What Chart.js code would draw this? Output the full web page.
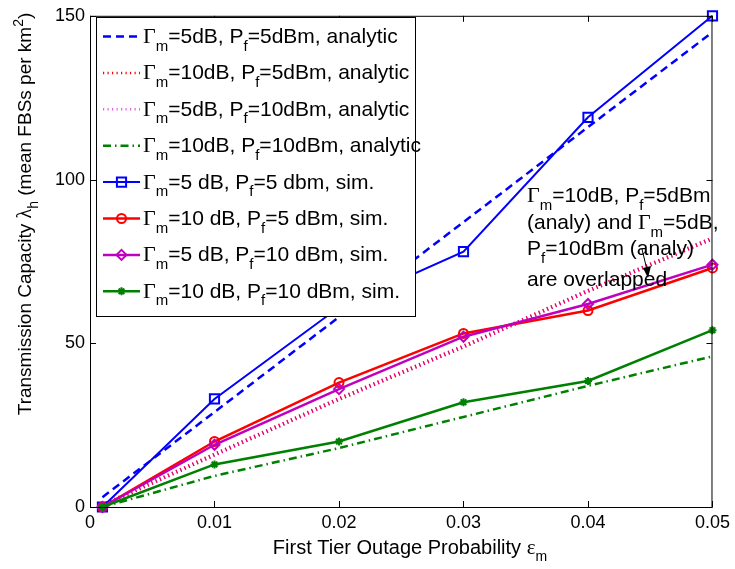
<!DOCTYPE html>
<html>
<head>
<meta charset="utf-8">
<script src="https://cdn.jsdelivr.net/npm/chart.js@4.4.1/dist/chart.umd.min.js"></script>
<style>
  html, body { margin: 0; padding: 0; background: #fff; }
</style>
</head>
<body>
<canvas id="tcChart" width="735" height="569"></canvas>
<script>
// outage probability values where the curves were evaluated
const epsValues = [0.001, 0.01, 0.02, 0.03, 0.04, 0.05];

// analytic curves
const ana5dB5dBm = [3, 29, 58, 87, 116, 145];
const ana10dB5dBm = [0.5, 16, 33, 49, 66, 82];
const ana5dB10dBm = [0.5, 16, 33, 49, 66, 82];
const ana10dB10dBm = [0, 9.5, 18, 27.5, 37, 46];

// simulation curves
const sim5dB5dBm = [0, 33, 61, 78, 119, 150];
const sim10dB5dBm = [0, 20, 38, 53, 60, 73];
const sim5dB10dBm = [0, 19, 36, 52, 62, 74];
const sim10dB10dBm = [0, 13, 20, 32, 38.5, 54];

const xTicks = [0, 0.01, 0.02, 0.03, 0.04, 0.05];
const yTicks = [0, 50, 100, 150];

// "_x" = subscript, "^x" = superscript
const seriesLabels = [
  'Γ_m=5dB, P_f=5dBm, analytic',
  'Γ_m=10dB, P_f=5dBm, analytic',
  'Γ_m=5dB, P_f=10dBm, analytic',
  'Γ_m=10dB, P_f=10dBm, analytic',
  'Γ_m=5 dB, P_f=5 dbm, sim.',
  'Γ_m=10 dB, P_f=5 dBm, sim.',
  'Γ_m=5 dB, P_f=10 dBm, sim.',
  'Γ_m=10 dB, P_f=10 dBm, sim.'
];
const noteLines = ['Γ_m=10dB, P_f=5dBm', '(analy) and Γ_m=5dB,', 'P_f=10dBm (analy)', 'are overlapped'];
const xTitle = 'First Tier Outage Probability ε_m';
const yTitle = 'Transmission Capacity λ_h (mean FBSs per km^2)';

const SANS = '"Liberation Sans", Arial, sans-serif';
const SERIF = '"Liberation Serif", "Times New Roman", serif';
const GREEK = /[\u0370-\u03ff]/;

function toPoints(xs, ys) {
  return xs.map((x, i) => ({ x: x, y: ys[i] }));
}

function parseRich(str) {
  const parts = [];
  let i = 0;
  while (i < str.length) {
    const c = str[i];
    if (c === '_' || c === '^') {
      parts.push({ text: str[i + 1], kind: c === '_' ? 'sub' : 'sup' });
      i += 2;
      continue;
    }
    const greek = GREEK.test(c);
    const last = parts[parts.length - 1];
    if (last && last.kind === 'normal' && last.greek === greek) last.text += c;
    else parts.push({ text: c, kind: 'normal', greek: greek });
    i++;
  }
  return parts;
}

function partFont(p, size) {
  if (p.kind !== 'normal') return Math.round(size * 0.72) + 'px ' + SANS;
  return p.greek ? (size + 1) + 'px ' + SERIF : size + 'px ' + SANS;
}

function drawRich(ctx, str, x, y, size, align) {
  const parts = parseRich(str);
  let w = 0;
  parts.forEach(p => {
    ctx.font = partFont(p, size);
    p.w = ctx.measureText(p.text).width;
    w += p.w;
  });
  let cx = align === 'center' ? x - w / 2 : x;
  ctx.textAlign = 'left';
  ctx.textBaseline = 'alphabetic';
  parts.forEach(p => {
    ctx.font = partFont(p, size);
    let dy = 0;
    if (p.kind === 'sub') dy = size * 0.36;
    if (p.kind === 'sup') dy = -size * 0.42;
    ctx.fillText(p.text, cx, y + dy);
    cx += p.w;
  });
}

const clear = 'rgba(0,0,0,0)';

const datasets = [
  { data: toPoints(epsValues, ana5dB5dBm), borderColor: '#0000ff', borderWidth: 2.5, borderDash: [8, 5], pointRadius: 0, order: 8 },
  { data: toPoints(epsValues, ana10dB5dBm), borderColor: '#ff0000', borderWidth: 4, borderDash: [1.2, 3.3], pointRadius: 0, order: 7 },
  { data: toPoints(epsValues, ana5dB10dBm), borderColor: 'rgba(204,0,204,0.6)', borderWidth: 4, borderDash: [1.2, 3.3], pointRadius: 0, order: 6 },
  { data: toPoints(epsValues, ana10dB10dBm), borderColor: '#008000', borderWidth: 2.5, borderDash: [8, 4, 1.5, 4], pointRadius: 0, order: 5 },
  { data: toPoints(epsValues, sim5dB5dBm), borderColor: '#0000ff', borderWidth: 2, pointStyle: 'rect', pointRadius: 6.5, pointBorderWidth: 2, order: 4 },
  { data: toPoints(epsValues, sim10dB5dBm), borderColor: '#ff0000', borderWidth: 2.5, pointStyle: 'circle', pointRadius: 4.5, pointBorderWidth: 2, order: 3 },
  { data: toPoints(epsValues, sim5dB10dBm), borderColor: '#bf00bf', borderWidth: 2.5, pointStyle: 'rectRot', pointRadius: 5, pointBorderWidth: 2, order: 2 },
  { data: toPoints(epsValues, sim10dB10dBm), borderColor: '#008000', borderWidth: 2.5, pointStyle: 'star', pointRadius: 4, pointBorderWidth: 2, order: 1 }
];
datasets.forEach((d, i) => {
  d.label = seriesLabels[i];
  d.backgroundColor = clear;
  d.pointBackgroundColor = clear;
  d.pointBorderColor = d.borderColor;
  d.fill = false;
  d.tension = 0;
  d.clip = false;
});

const framePlugin = {
  id: 'frameAndText',
  afterDraw(chart) {
    const ctx = chart.ctx;
    const area = chart.chartArea;
    const xs = chart.scales.x;
    const ys = chart.scales.y;
    ctx.save();

    // box + inward ticks on all sides
    ctx.strokeStyle = '#000';
    ctx.lineWidth = 1;
    ctx.strokeRect(area.left + 0.5, area.top + 0.5, area.right - area.left - 1, area.bottom - area.top);
    ctx.beginPath();
    xTicks.forEach(v => {
      const px = Math.round(xs.getPixelForValue(v)) + 0.5;
      ctx.moveTo(px, area.bottom); ctx.lineTo(px, area.bottom - 6);
      ctx.moveTo(px, area.top); ctx.lineTo(px, area.top + 6);
    });
    yTicks.forEach(v => {
      const py = Math.round(ys.getPixelForValue(v)) + 0.5;
      ctx.moveTo(area.left, py); ctx.lineTo(area.left + 6, py);
      ctx.moveTo(area.right, py); ctx.lineTo(area.right - 6, py);
    });
    ctx.stroke();

    // legend box
    ctx.fillStyle = '#fff';
    ctx.fillRect(96, 17, 319, 299);
    ctx.strokeRect(96.5, 17.5, 319, 299);
    chart.data.datasets.forEach((d, i) => {
      const base = 43 + i * 36.4;
      const ly = base - 6.5;
      ctx.save();
      ctx.strokeStyle = d.borderColor;
      ctx.lineWidth = Math.min(d.borderWidth, 2.5);
      ctx.setLineDash(d.borderDash || []);
      ctx.beginPath();
      ctx.moveTo(103, ly); ctx.lineTo(140, ly);
      ctx.stroke();
      ctx.setLineDash([]);
      if (d.pointRadius > 0) {
        ctx.fillStyle = clear;
        ctx.lineWidth = d.pointBorderWidth;
        Chart.helpers.drawPoint(ctx, { pointStyle: d.pointStyle, radius: d.pointRadius, borderWidth: d.pointBorderWidth, rotation: 0 }, 121.5, ly);
      }
      ctx.restore();
      ctx.fillStyle = '#000';
      drawRich(ctx, d.label, 143, base, 21, 'left');
    });

    // annotation + arrow
    ctx.fillStyle = '#000';
    const noteBase = [202, 229, 255, 286];
    noteLines.forEach((t, i) => drawRich(ctx, t, 527, noteBase[i], 21, 'left'));
    ctx.beginPath();
    ctx.moveTo(642, 249); ctx.lineTo(647, 270);
    ctx.stroke();
    ctx.beginPath();
    ctx.moveTo(648, 278); ctx.lineTo(643, 268); ctx.lineTo(651, 266);
    ctx.closePath();
    ctx.fill();

    // axis titles
    drawRich(ctx, xTitle, 410, 554, 20, 'center');
    ctx.translate(31, 214);
    ctx.rotate(-Math.PI / 2);
    drawRich(ctx, yTitle, 0, 0, 19, 'center');
    ctx.restore();
  }
};

new Chart(document.getElementById('tcChart').getContext('2d'), {
  type: 'line',
  data: { datasets: datasets },
  options: {
    responsive: false,
    animation: false,
    devicePixelRatio: 1,
    layout: { padding: { top: 11, right: 21, left: 0, bottom: 0 } },
    plugins: { legend: { display: false }, tooltip: { enabled: false } },
    scales: {
      x: {
        type: 'linear', min: 0, max: 0.05,
        afterBuildTicks: s => { s.ticks = xTicks.map(v => ({ value: v })); },
        afterFit: s => { s.height = 62; },
        grid: { display: false, drawTicks: false },
        border: { display: false },
        ticks: {
          autoSkip: false, maxRotation: 0, padding: 5, color: '#000',
          font: { family: SANS, size: 18 },
          callback: v => v === 0 ? '0' : v.toFixed(2)
        }
      },
      y: {
        type: 'linear', min: 0, max: 150,
        afterBuildTicks: s => { s.ticks = yTicks.map(v => ({ value: v })); },
        afterFit: s => { s.width = 90; },
        grid: { display: false, drawTicks: false },
        border: { display: false },
        ticks: { padding: 5, color: '#000', font: { family: SANS, size: 18 } }
      }
    }
  },
  plugins: [framePlugin]
});
</script>
</body>
</html>
